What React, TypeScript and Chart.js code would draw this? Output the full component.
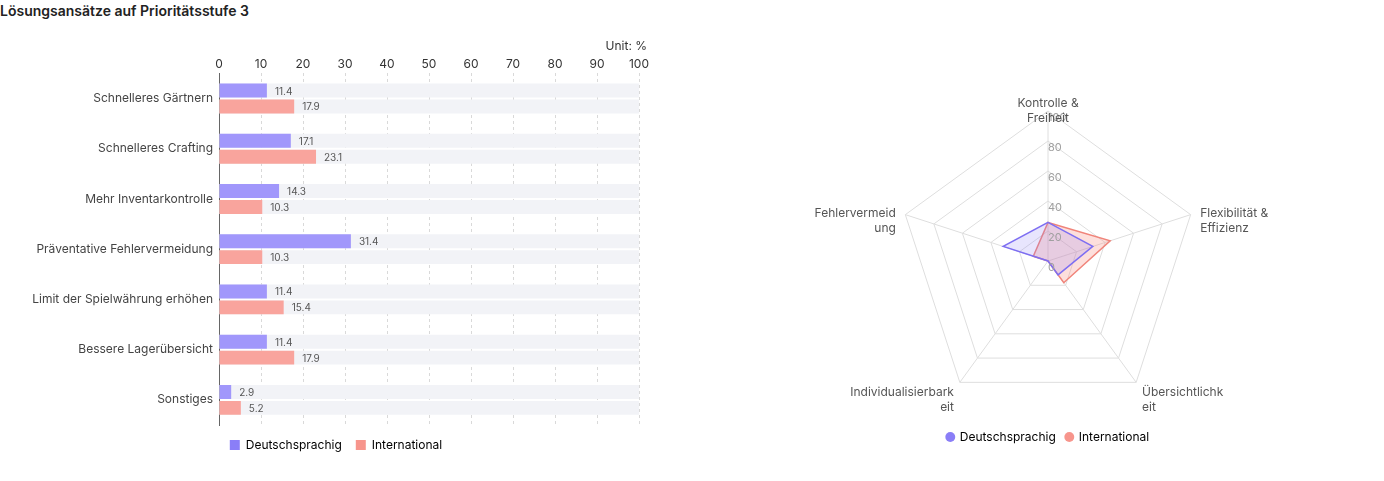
import { Chart, registerables } from "chart.js";
import { useEffect, useRef } from "react";
Chart.register(...registerables);

Chart.defaults.font.family = "Inter, 'Noto Sans', sans-serif";

const categories = [
  "Schnelleres Gärtnern",
  "Schnelleres Crafting",
  "Mehr Inventarkontrolle",
  "Präventative Fehlervermeidung",
  "Limit der Spielwährung erhöhen",
  "Bessere Lagerübersicht",
  "Sonstiges",
];
const deValues = [11.4, 17.1, 14.3, 31.4, 11.4, 11.4, 2.9];
const intValues = [17.9, 23.1, 10.3, 10.3, 15.4, 17.9, 5.2];
const trackValues = [100, 100, 100, 100, 100, 100, 100];

const radarAxes = [
  ["Kontrolle &", "Freiheit"],
  ["Flexibilität &", "Effizienz"],
  ["Übersichtlichk", "eit"],
  ["Individualisierbark", "eit"],
  ["Fehlervermeid", "ung"],
];
const radarDe = [25.7, 31.4, 11.4, 0, 31.4];
const radarInt = [25.7, 43.6, 17.9, 0, 10.3];

const seriesNames = ["Deutschsprachig", "International"];
const legendColors = ["#8a7ef7", "#f7958c"];

// value labels next to bars + unit text
const barValuePlugin = {
  id: "barValues",
  afterDatasetsDraw(chart: any) {
    const ctx = chart.ctx;
    ctx.save();
    ctx.font = "10px Inter";
    ctx.fillStyle = "#555";
    ctx.textBaseline = "middle";
    ctx.textAlign = "left";
    [0, 1].forEach((di) => {
      const meta = chart.getDatasetMeta(di);
      meta.data.forEach((bar: any, i: number) => {
        const v = chart.data.datasets[di].data[i];
        ctx.fillText(String(v), bar.x + 8, bar.y + 1);
      });
    });
    ctx.font = "12px Inter";
    ctx.fillStyle = "#333";
    ctx.textAlign = "right";
    ctx.fillText("Unit: %", chart.chartArea.right + 8, 22);
    ctx.restore();
  },
};

// tick numbers and axis names for the radar
const radarLabelPlugin = {
  id: "radarLabels",
  afterDatasetsDraw(chart: any) {
    const scale = chart.scales.r;
    const ctx = chart.ctx;
    ctx.save();
    ctx.font = "11px Inter";
    ctx.fillStyle = "#a0a0a0";
    ctx.textAlign = "left";
    ctx.textBaseline = "top";
    scale.ticks.forEach((t: any) => {
      const d = scale.getDistanceFromCenterForValue(t.value);
      ctx.fillText(String(t.value), scale.xCenter, scale.yCenter - d + 1);
    });
    ctx.font = "12px Inter";
    ctx.fillStyle = "#555";
    ctx.textBaseline = "middle";
    radarAxes.forEach((lines, i) => {
      const p = scale.getPointPosition(i, scale.drawingArea + 10);
      const dx = p.x - scale.xCenter;
      ctx.textAlign = Math.abs(dx) < 1 ? "center" : dx > 0 ? "left" : "right";
      lines.forEach((ln, j) => ctx.fillText(ln, p.x, p.y + 2 + j * 15));
    });
    ctx.restore();
  },
};

function BarChart() {
  const chartRef = useRef<HTMLCanvasElement | null>(null);
  const chartInstance = useRef<Chart | null>(null);

  useEffect(() => {
    const ctx = chartRef.current?.getContext("2d");
    if (chartInstance.current) chartInstance.current.destroy();
    if (ctx) {
      chartInstance.current = new Chart(ctx, {
        type: "bar",
        data: {
          labels: categories,
          datasets: [
            { label: seriesNames[0], data: deValues, backgroundColor: "#a197fb", stack: "de", order: 0 },
            { label: seriesNames[1], data: intValues, backgroundColor: "#f9a49d", stack: "int", order: 1 },
            { label: "", data: trackValues, backgroundColor: "#f2f3f7", stack: "de", order: 2 },
            { label: "", data: trackValues, backgroundColor: "#f2f3f7", stack: "int", order: 3 },
          ],
        },
        options: {
          indexAxis: "y",
          responsive: true,
          maintainAspectRatio: false,
          animation: false,
          categoryPercentage: 0.633,
          barPercentage: 0.875,
          layout: { padding: { top: 31, right: 33, bottom: 20, left: 33 } },
          plugins: {
            legend: {
              position: "bottom",
              labels: {
                boxWidth: 10,
                boxHeight: 10,
                padding: 14,
                color: "#555",
                font: { size: 12 },
                generateLabels: () =>
                  seriesNames.map((n, i) => ({
                    text: n,
                    fillStyle: legendColors[i],
                    strokeStyle: legendColors[i],
                    lineWidth: 0,
                    datasetIndex: i,
                    hidden: false,
                  })),
              },
            },
            tooltip: { enabled: false },
          },
          scales: {
            x: {
              position: "top",
              min: 0,
              max: 100,
              stacked: false,
              ticks: { stepSize: 10, padding: 2, color: "#333", font: { size: 12 } },
              grid: { color: "#d9d9d9", drawTicks: false },
              border: { display: false, dash: [3, 3] },
            },
            y: {
              grid: { display: false, drawTicks: false },
              border: { display: true, color: "#666", width: 1 },
              ticks: { padding: 6, color: "#444", font: { size: 12 } },
              afterFit: (scale: any) => {
                scale.width = 186;
              },
            },
          },
        },
        plugins: [barValuePlugin],
      });
    }
    return () => {
      if (chartInstance.current) chartInstance.current.destroy();
    };
  }, []);

  return <canvas ref={chartRef} />;
}

function RadarChart() {
  const chartRef = useRef<HTMLCanvasElement | null>(null);
  const chartInstance = useRef<Chart | null>(null);

  useEffect(() => {
    const ctx = chartRef.current?.getContext("2d");
    if (chartInstance.current) chartInstance.current.destroy();
    if (ctx) {
      chartInstance.current = new Chart(ctx, {
        type: "radar",
        data: {
          labels: radarAxes.map((l) => l.join("")),
          datasets: [
            {
              label: seriesNames[0],
              data: radarDe,
              borderColor: "#7d6ef2",
              backgroundColor: "rgba(138,126,247,0.2)",
              borderWidth: 1.5,
              pointRadius: 0,
            },
            {
              label: seriesNames[1],
              data: radarInt,
              borderColor: "#f0847a",
              backgroundColor: "rgba(247,149,140,0.3)",
              borderWidth: 1.5,
              pointRadius: 0,
            },
          ],
        },
        options: {
          responsive: true,
          maintainAspectRatio: false,
          animation: false,
          layout: { padding: { top: 77, right: 186, bottom: 28, left: 186 } },
          plugins: {
            legend: {
              position: "bottom",
              labels: {
                usePointStyle: true,
                pointStyle: "circle",
                boxWidth: 7,
                boxHeight: 7,
                padding: 10,
                color: "#555",
                font: { size: 12 },
                generateLabels: () =>
                  seriesNames.map((n, i) => ({
                    text: n,
                    fillStyle: legendColors[i],
                    strokeStyle: legendColors[i],
                    lineWidth: 0,
                    pointStyle: "circle",
                    datasetIndex: i,
                    hidden: false,
                  })),
              },
            },
            tooltip: { enabled: false },
          },
          scales: {
            r: {
              min: 0,
              max: 100,
              ticks: { stepSize: 20, display: false },
              pointLabels: { display: false },
              grid: { color: "#dedede" },
              angleLines: { color: "#dedede" },
            },
          },
        },
        plugins: [radarLabelPlugin],
      });
    }
    return () => {
      if (chartInstance.current) chartInstance.current.destroy();
    };
  }, []);

  return <canvas ref={chartRef} />;
}

export default function App() {
  useEffect(() => {
    document.body.style.margin = "0";
  }, []);
  return (
    <div style={{ width: 1384, fontFamily: "Inter, sans-serif" }}>
      <div style={{ height: 24, lineHeight: "22px", fontSize: 14, fontWeight: 600, color: "#222" }}>
        Lösungsansätze auf Prioritätsstufe 3
      </div>
      <div style={{ display: "flex", gap: 40 }}>
        <div style={{ position: "relative", width: 672, height: 457 }}>
          <BarChart />
        </div>
        <div style={{ position: "relative", width: 672, height: 457 }}>
          <RadarChart />
        </div>
      </div>
    </div>
  );
}
